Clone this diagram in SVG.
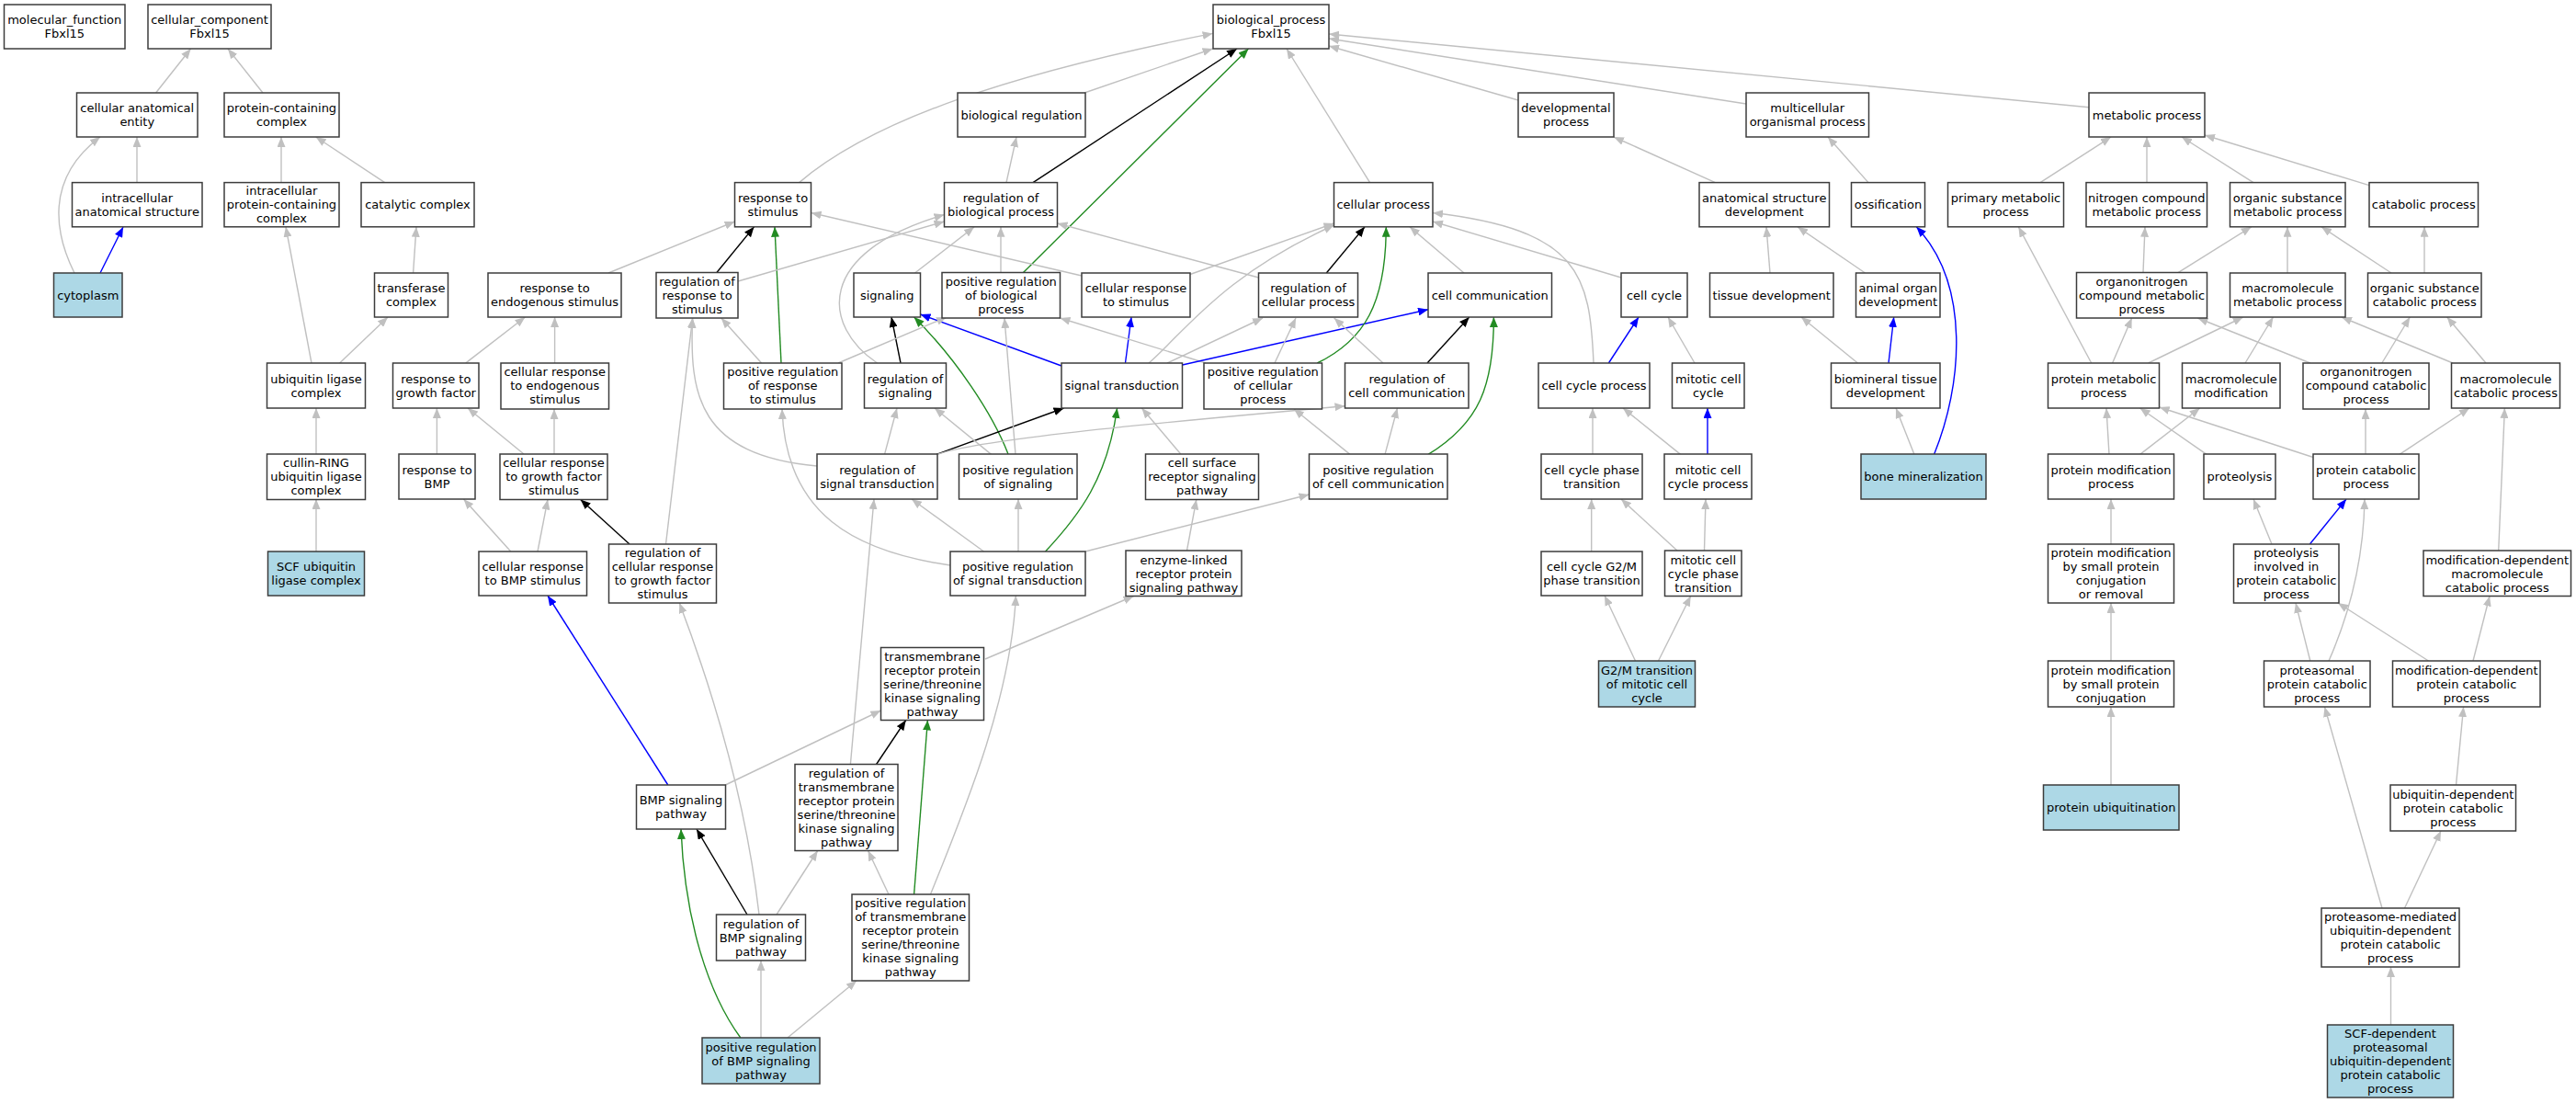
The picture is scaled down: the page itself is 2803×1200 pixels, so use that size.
<svg xmlns="http://www.w3.org/2000/svg" width="2803" height="1200" viewBox="0 0 2803 1200">
<style>
.n{fill:#fff;stroke:#3c3c3c;stroke-width:1.5}
.hl{fill:#add8e6}
.t{font-family:"DejaVu Sans","Liberation Sans",sans-serif;font-size:13px;text-anchor:middle;fill:#000}
#edges path{fill:none;stroke-width:1.4}
.g{stroke:#c0c0c0;marker-end:url(#ag)}
.k{stroke:#000;marker-end:url(#ak)}
.b{stroke:#0000ff;marker-end:url(#ab)}
.v{stroke:#228b22;marker-end:url(#av)}
</style>
<defs>
<marker id="ag" markerUnits="userSpaceOnUse" markerWidth="11" markerHeight="9" refX="11" refY="4.5" orient="auto"><path d="M0,0 L11,4.5 L0,9 z" fill="#c0c0c0"/></marker>
<marker id="ak" markerUnits="userSpaceOnUse" markerWidth="11" markerHeight="9" refX="11" refY="4.5" orient="auto"><path d="M0,0 L11,4.5 L0,9 z" fill="#000"/></marker>
<marker id="ab" markerUnits="userSpaceOnUse" markerWidth="11" markerHeight="9" refX="11" refY="4.5" orient="auto"><path d="M0,0 L11,4.5 L0,9 z" fill="#0000ff"/></marker>
<marker id="av" markerUnits="userSpaceOnUse" markerWidth="11" markerHeight="9" refX="11" refY="4.5" orient="auto"><path d="M0,0 L11,4.5 L0,9 z" fill="#228b22"/></marker>
</defs>
<rect x="0" y="0" width="2803" height="1200" fill="#fff"/>
<g id="edges">
<path class="g" d="M169.6,101 L207.6,53"/>
<path class="g" d="M286,101 L248,53"/>
<path class="g" d="M149,198.6 L149,149"/>
<path class="g" d="M81,297 C60,255 48,195 109,149"/>
<path class="b" d="M109,297 L134,247"/>
<path class="g" d="M306,198.6 L306,149"/>
<path class="g" d="M418.7,198.6 L343.7,149"/>
<path class="g" d="M449.6,297 L453,246.8"/>
<path class="g" d="M339,395 L311,246.8"/>
<path class="g" d="M369.6,395 L422,345"/>
<path class="g" d="M344,494 L344,444"/>
<path class="g" d="M344,600 L344,543"/>
<path class="g" d="M662,297 L799.6,241"/>
<path class="g" d="M506.7,395 L571.4,345"/>
<path class="g" d="M603.6,395 L603.6,345"/>
<path class="g" d="M475.4,494 L475.4,444"/>
<path class="g" d="M570,494 L509,444"/>
<path class="g" d="M603,494 L603,445"/>
<path class="k" d="M685,592 L631.7,543.4"/>
<path class="g" d="M555.8,600 L504.5,543"/>
<path class="g" d="M585,600 L596,543.4"/>
<path class="b" d="M726.8,854 L596,648"/>
<path class="g" d="M869.6,198.6 C950,130 1100,80 1319.6,36.4"/>
<path class="g" d="M1180,101 L1319.6,53"/>
<path class="k" d="M1124,198.6 L1346,53"/>
<path class="v" d="M1113,297 L1358.5,53"/>
<path class="g" d="M1095,198.6 L1106,149"/>
<path class="k" d="M779.5,297 L820.5,246.8"/>
<path class="v" d="M850,395 L843,246.8"/>
<path class="g" d="M803,306 L1027.5,241"/>
<path class="g" d="M1177,300 L882.6,231.5"/>
<path class="g" d="M995.5,297 L1060,247"/>
<path class="g" d="M1089,297 L1089,246.8"/>
<path class="g" d="M1369.6,302 L1150.5,243"/>
<path class="g" d="M954.5,395 C895,355 885,275 1027.5,233.5"/>
<path class="k" d="M980,395 L970,345"/>
<path class="v" d="M1097,494 C1080,450 1040,390 994.6,345"/>
<path class="b" d="M1155,398 L1001.5,342"/>
<path class="g" d="M912,395 L1030,345"/>
<path class="b" d="M1224.5,395 L1231,345"/>
<path class="g" d="M1312,395 L1153.5,346"/>
<path class="g" d="M1270,395 L1374,346"/>
<path class="g" d="M1250,395 C1290,360 1330,300 1451.5,245"/>
<path class="g" d="M1295,298.5 L1451.5,243"/>
<path class="b" d="M1286.6,397 L1554,336.7"/>
<path class="k" d="M1019,494.4 L1157.6,444"/>
<path class="v" d="M1137.5,600 C1175,560 1205,520 1215.6,444"/>
<path class="g" d="M1284.8,494 L1242.4,444"/>
<path class="g" d="M962.5,494.4 L976,444"/>
<path class="g" d="M1078.6,494.4 L1017,444"/>
<path class="g" d="M1105,494.4 L1093,346"/>
<path class="g" d="M889,507 C760,495 750,430 753.6,346"/>
<path class="g" d="M828.6,395 L784.8,346"/>
<path class="g" d="M1020,494.4 C1060,480 1200,465 1463.5,441.7"/>
<path class="v" d="M1433.3,395 C1485,370 1508,330 1508.3,246.8"/>
<path class="k" d="M1443.3,297 L1485,246.8"/>
<path class="g" d="M1593,297 L1534,246.8"/>
<path class="g" d="M1764,302 L1559,241"/>
<path class="g" d="M1734,395 C1730,300 1720,250 1559,231.5"/>
<path class="g" d="M1490.6,198.6 L1400,53"/>
<path class="g" d="M1652,109 L1446,50"/>
<path class="g" d="M1900,113 L1446,42"/>
<path class="g" d="M2273,116.7 L1446,37"/>
<path class="g" d="M1866.5,198.6 L1756,149"/>
<path class="g" d="M2033,198.6 L1989,149"/>
<path class="b" d="M2104.5,494.4 C2135,420 2145,310 2085.3,246.8"/>
<path class="g" d="M1926,297 L1922,246.8"/>
<path class="g" d="M2029.5,297 L1956,246.8"/>
<path class="g" d="M2021.4,395 L1960,345"/>
<path class="b" d="M2055,395 L2060.7,345"/>
<path class="g" d="M2083,494.4 L2063,444"/>
<path class="k" d="M1553,395 L1598.7,345"/>
<path class="v" d="M1554,494.4 C1610,460 1625.4,420 1625.4,345"/>
<path class="g" d="M1507,494.4 L1520.5,444"/>
<path class="g" d="M1469,494.4 L1408,445"/>
<path class="g" d="M1505,395 L1451.7,346"/>
<path class="g" d="M1387,395 L1410,346"/>
<path class="g" d="M1070.5,600 L992,543"/>
<path class="g" d="M1108,600 L1108,543"/>
<path class="g" d="M1034,615 C930,600 855,560 851,445"/>
<path class="g" d="M1181,600 L1424.5,538"/>
<path class="g" d="M1291.5,599 L1301.8,543.4"/>
<path class="g" d="M724.5,592 L753.6,346"/>
<path class="g" d="M826,995 C815,900 790,790 739.3,656"/>
<path class="k" d="M813,995 L758,902"/>
<path class="g" d="M845,995 L889.7,925.5"/>
<path class="v" d="M805.8,1129 C770,1080 745,1000 741,902"/>
<path class="g" d="M828,1129 L828,1045"/>
<path class="g" d="M857,1129 L932,1067"/>
<path class="g" d="M789.3,854 L958.5,773"/>
<path class="k" d="M953.6,831.5 L985.7,783.5"/>
<path class="v" d="M994.6,973 L1009.4,783.5"/>
<path class="g" d="M967,973 L944.6,925.5"/>
<path class="g" d="M1012.5,973 C1050,880 1100,760 1105.4,648"/>
<path class="g" d="M925.4,831.5 L951,543"/>
<path class="g" d="M1072,717 L1233.5,648.5"/>
<path class="g" d="M2220,198.6 L2297,149"/>
<path class="g" d="M2336,198.6 L2336,149"/>
<path class="g" d="M2452,198.6 L2374,149"/>
<path class="g" d="M2578,201.7 L2399,147"/>
<path class="g" d="M2332,296.6 L2334,246.8"/>
<path class="g" d="M2370,296.6 L2449.7,246.8"/>
<path class="g" d="M2489,297 L2489,246.8"/>
<path class="g" d="M2602,297 L2526,246.8"/>
<path class="g" d="M2638,297 L2638,246.8"/>
<path class="g" d="M2275.7,395 L2196.4,246.8"/>
<path class="g" d="M2298.6,395 L2319.7,346"/>
<path class="g" d="M2337.6,395 L2440.7,345"/>
<path class="g" d="M2443,395 L2473.5,345"/>
<path class="g" d="M2513.8,395 L2391.4,346"/>
<path class="g" d="M2591.8,395 L2622.3,345"/>
<path class="g" d="M2669,395 L2548,345"/>
<path class="g" d="M2705,395 L2662.7,345"/>
<path class="g" d="M2295,494.4 L2292,444"/>
<path class="g" d="M2328.6,494.4 L2393.7,444"/>
<path class="g" d="M2401,494.4 L2328.6,444"/>
<path class="g" d="M2517,497.5 L2349.7,443"/>
<path class="g" d="M2574,494.4 L2574,445"/>
<path class="g" d="M2611,494.4 L2687,444"/>
<path class="g" d="M2297,592 L2297,543"/>
<path class="g" d="M2472,592 L2452,543"/>
<path class="b" d="M2513.4,592 L2553,543"/>
<path class="g" d="M2534,719 C2560,660 2572,600 2573,543"/>
<path class="g" d="M2718.7,599 L2725.4,444"/>
<path class="g" d="M2297,719 L2297,656"/>
<path class="g" d="M2297,854 L2297,769"/>
<path class="g" d="M2513.8,719 L2498,656"/>
<path class="g" d="M2642.5,719 L2544,656"/>
<path class="g" d="M2691,719 L2709,648.5"/>
<path class="g" d="M2672.5,854 L2680.6,769"/>
<path class="g" d="M2592,988 L2529.5,769"/>
<path class="g" d="M2616.5,988 L2656,904"/>
<path class="g" d="M2601.5,1115 L2601.5,1052"/>
<path class="g" d="M1731.7,600 L1731.7,543"/>
<path class="g" d="M1825,599 L1764,543"/>
<path class="g" d="M1854.5,599 L1856,543"/>
<path class="g" d="M1779.5,719 L1746,648"/>
<path class="g" d="M1804.5,719 L1839.7,648.5"/>
<path class="g" d="M1733,494.4 L1733,444"/>
<path class="g" d="M1828.6,494.4 L1766,444"/>
<path class="b" d="M1858,494.4 L1858,444"/>
<path class="b" d="M1750.4,395 L1783,345"/>
<path class="g" d="M1844,395 L1815,345"/>
</g>
<g id="n_mf"><rect class="n" x="4.5" y="5" width="131.5" height="48"/><text class="t"><tspan x="70.25" y="26">molecular_function</tspan><tspan x="70.25" y="41">Fbxl15</tspan></text></g>
<g id="n_cc"><rect class="n" x="161" y="5" width="134" height="48"/><text class="t"><tspan x="228" y="26">cellular_component</tspan><tspan x="228" y="41">Fbxl15</tspan></text></g>
<g id="n_bp"><rect class="n" x="1320" y="5" width="126" height="48"/><text class="t"><tspan x="1383" y="26">biological_process</tspan><tspan x="1383" y="41">Fbxl15</tspan></text></g>
<g id="n_cae"><rect class="n" x="83.5" y="101" width="131.5" height="48"/><text class="t"><tspan x="149.25" y="122">cellular anatomical</tspan><tspan x="149.25" y="137">entity</tspan></text></g>
<g id="n_pcc"><rect class="n" x="244" y="101" width="125" height="48"/><text class="t"><tspan x="306.5" y="122">protein-containing</tspan><tspan x="306.5" y="137">complex</tspan></text></g>
<g id="n_breg"><rect class="n" x="1042" y="101" width="139" height="48"/><text class="t"><tspan x="1111.5" y="129.5">biological regulation</tspan></text></g>
<g id="n_dev"><rect class="n" x="1652" y="101" width="104" height="48"/><text class="t"><tspan x="1704" y="122">developmental</tspan><tspan x="1704" y="137">process</tspan></text></g>
<g id="n_mop"><rect class="n" x="1900" y="101" width="133.5" height="48"/><text class="t"><tspan x="1966.75" y="122">multicellular</tspan><tspan x="1966.75" y="137">organismal process</tspan></text></g>
<g id="n_met"><rect class="n" x="2273" y="101" width="126" height="48"/><text class="t"><tspan x="2336" y="129.5">metabolic process</tspan></text></g>
<g id="n_ias"><rect class="n" x="78.5" y="198.6" width="141.5" height="48.2"/><text class="t"><tspan x="149.25" y="219.7">intracellular</tspan><tspan x="149.25" y="234.7">anatomical structure</tspan></text></g>
<g id="n_ipcc"><rect class="n" x="244" y="198.6" width="125" height="48.2"/><text class="t"><tspan x="306.5" y="212.2">intracellular</tspan><tspan x="306.5" y="227.2">protein-containing</tspan><tspan x="306.5" y="242.2">complex</tspan></text></g>
<g id="n_catc"><rect class="n" x="393" y="198.6" width="123" height="48.2"/><text class="t"><tspan x="454.5" y="227.2">catalytic complex</tspan></text></g>
<g id="n_rts"><rect class="n" x="799.5" y="198.6" width="83" height="48.2"/><text class="t"><tspan x="841" y="219.7">response to</tspan><tspan x="841" y="234.7">stimulus</tspan></text></g>
<g id="n_rbp"><rect class="n" x="1027.5" y="198.6" width="123" height="48.2"/><text class="t"><tspan x="1089" y="219.7">regulation of</tspan><tspan x="1089" y="234.7">biological process</tspan></text></g>
<g id="n_cp"><rect class="n" x="1451.5" y="198.6" width="107.5" height="48.2"/><text class="t"><tspan x="1505.25" y="227.2">cellular process</tspan></text></g>
<g id="n_asd"><rect class="n" x="1849" y="198.6" width="141.5" height="48.2"/><text class="t"><tspan x="1919.75" y="219.7">anatomical structure</tspan><tspan x="1919.75" y="234.7">development</tspan></text></g>
<g id="n_oss"><rect class="n" x="2014.5" y="198.6" width="80" height="48.2"/><text class="t"><tspan x="2054.5" y="227.2">ossification</tspan></text></g>
<g id="n_pmp"><rect class="n" x="2119.5" y="198.6" width="126" height="48.2"/><text class="t"><tspan x="2182.5" y="219.7">primary metabolic</tspan><tspan x="2182.5" y="234.7">process</tspan></text></g>
<g id="n_ncmp"><rect class="n" x="2270" y="198.6" width="131.5" height="48.2"/><text class="t"><tspan x="2335.75" y="219.7">nitrogen compound</tspan><tspan x="2335.75" y="234.7">metabolic process</tspan></text></g>
<g id="n_osmp"><rect class="n" x="2426.5" y="198.6" width="125.5" height="48.2"/><text class="t"><tspan x="2489.25" y="219.7">organic substance</tspan><tspan x="2489.25" y="234.7">metabolic process</tspan></text></g>
<g id="n_catp"><rect class="n" x="2578" y="198.6" width="118.5" height="48.2"/><text class="t"><tspan x="2637.25" y="227.2">catabolic process</tspan></text></g>
<g id="n_cyto"><rect class="n hl" x="58.5" y="297" width="74.5" height="48"/><text class="t"><tspan x="95.75" y="325.5">cytoplasm</tspan></text></g>
<g id="n_trc"><rect class="n" x="407.5" y="297" width="80" height="48"/><text class="t"><tspan x="447.5" y="318">transferase</tspan><tspan x="447.5" y="333">complex</tspan></text></g>
<g id="n_res"><rect class="n" x="531" y="297" width="145" height="48"/><text class="t"><tspan x="603.5" y="318">response to</tspan><tspan x="603.5" y="333">endogenous stimulus</tspan></text></g>
<g id="n_rrs"><rect class="n" x="714" y="296.5" width="89" height="49.5"/><text class="t"><tspan x="758.5" y="310.5">regulation of</tspan><tspan x="758.5" y="325.5">response to</tspan><tspan x="758.5" y="340.5">stimulus</tspan></text></g>
<g id="n_sig"><rect class="n" x="929" y="297" width="72.5" height="48"/><text class="t"><tspan x="965.25" y="325.5">signaling</tspan></text></g>
<g id="n_prbp"><rect class="n" x="1025" y="296.5" width="128.5" height="49.5"/><text class="t"><tspan x="1089.25" y="310.5">positive regulation</tspan><tspan x="1089.25" y="325.5">of biological</tspan><tspan x="1089.25" y="340.5">process</tspan></text></g>
<g id="n_crs"><rect class="n" x="1177" y="297" width="118" height="48"/><text class="t"><tspan x="1236" y="318">cellular response</tspan><tspan x="1236" y="333">to stimulus</tspan></text></g>
<g id="n_rcp"><rect class="n" x="1369.5" y="297" width="108" height="48"/><text class="t"><tspan x="1423.5" y="318">regulation of</tspan><tspan x="1423.5" y="333">cellular process</tspan></text></g>
<g id="n_ccom"><rect class="n" x="1554" y="297" width="134.5" height="48"/><text class="t"><tspan x="1621.25" y="325.5">cell communication</tspan></text></g>
<g id="n_ccy"><rect class="n" x="1764" y="297" width="72" height="48"/><text class="t"><tspan x="1800" y="325.5">cell cycle</tspan></text></g>
<g id="n_td"><rect class="n" x="1860.5" y="297" width="134.5" height="48"/><text class="t"><tspan x="1927.75" y="325.5">tissue development</tspan></text></g>
<g id="n_aod"><rect class="n" x="2019.5" y="297" width="91.5" height="48"/><text class="t"><tspan x="2065.25" y="318">animal organ</tspan><tspan x="2065.25" y="333">development</tspan></text></g>
<g id="n_onmp"><rect class="n" x="2259.5" y="296.5" width="142" height="49.5"/><text class="t"><tspan x="2330.5" y="310.5">organonitrogen</tspan><tspan x="2330.5" y="325.5">compound metabolic</tspan><tspan x="2330.5" y="340.5">process</tspan></text></g>
<g id="n_mmp"><rect class="n" x="2426.5" y="297" width="125.5" height="48"/><text class="t"><tspan x="2489.25" y="318">macromolecule</tspan><tspan x="2489.25" y="333">metabolic process</tspan></text></g>
<g id="n_oscp"><rect class="n" x="2576.5" y="297" width="123.5" height="48"/><text class="t"><tspan x="2638.25" y="318">organic substance</tspan><tspan x="2638.25" y="333">catabolic process</tspan></text></g>
<g id="n_ulc"><rect class="n" x="290.5" y="395" width="107" height="49"/><text class="t"><tspan x="344" y="416.5">ubiquitin ligase</tspan><tspan x="344" y="431.5">complex</tspan></text></g>
<g id="n_rgf"><rect class="n" x="427.5" y="395" width="93.5" height="49"/><text class="t"><tspan x="474.25" y="416.5">response to</tspan><tspan x="474.25" y="431.5">growth factor</tspan></text></g>
<g id="n_cres"><rect class="n" x="545" y="395" width="117.5" height="50"/><text class="t"><tspan x="603.75" y="409">cellular response</tspan><tspan x="603.75" y="424">to endogenous</tspan><tspan x="603.75" y="439">stimulus</tspan></text></g>
<g id="n_prrs"><rect class="n" x="787.5" y="395" width="128.5" height="50"/><text class="t"><tspan x="851.75" y="409">positive regulation</tspan><tspan x="851.75" y="424">of response</tspan><tspan x="851.75" y="439">to stimulus</tspan></text></g>
<g id="n_rsig"><rect class="n" x="940.5" y="395" width="89" height="49"/><text class="t"><tspan x="985" y="416.5">regulation of</tspan><tspan x="985" y="431.5">signaling</tspan></text></g>
<g id="n_st"><rect class="n" x="1155" y="395" width="131.5" height="49"/><text class="t"><tspan x="1220.75" y="424">signal transduction</tspan></text></g>
<g id="n_prcp"><rect class="n" x="1310" y="395" width="128.5" height="50"/><text class="t"><tspan x="1374.25" y="409">positive regulation</tspan><tspan x="1374.25" y="424">of cellular</tspan><tspan x="1374.25" y="439">process</tspan></text></g>
<g id="n_rcc"><rect class="n" x="1463.5" y="395" width="134.5" height="49"/><text class="t"><tspan x="1530.75" y="416.5">regulation of</tspan><tspan x="1530.75" y="431.5">cell communication</tspan></text></g>
<g id="n_ccp"><rect class="n" x="1674" y="395" width="121" height="49"/><text class="t"><tspan x="1734.5" y="424">cell cycle process</tspan></text></g>
<g id="n_mcc"><rect class="n" x="1819.5" y="395" width="78.5" height="49"/><text class="t"><tspan x="1858.75" y="416.5">mitotic cell</tspan><tspan x="1858.75" y="431.5">cycle</tspan></text></g>
<g id="n_btd"><rect class="n" x="1992.5" y="395" width="118.5" height="49"/><text class="t"><tspan x="2051.75" y="416.5">biomineral tissue</tspan><tspan x="2051.75" y="431.5">development</tspan></text></g>
<g id="n_prmp"><rect class="n" x="2228.5" y="395" width="121" height="49"/><text class="t"><tspan x="2289" y="416.5">protein metabolic</tspan><tspan x="2289" y="431.5">process</tspan></text></g>
<g id="n_mmod"><rect class="n" x="2374.5" y="395" width="106.5" height="49"/><text class="t"><tspan x="2427.75" y="416.5">macromolecule</tspan><tspan x="2427.75" y="431.5">modification</tspan></text></g>
<g id="n_onccp"><rect class="n" x="2506" y="395" width="137" height="50"/><text class="t"><tspan x="2574.5" y="409">organonitrogen</tspan><tspan x="2574.5" y="424">compound catabolic</tspan><tspan x="2574.5" y="439">process</tspan></text></g>
<g id="n_mcp"><rect class="n" x="2667.5" y="395" width="118" height="49"/><text class="t"><tspan x="2726.5" y="416.5">macromolecule</tspan><tspan x="2726.5" y="431.5">catabolic process</tspan></text></g>
<g id="n_crl"><rect class="n" x="290.5" y="494" width="107" height="49.5"/><text class="t"><tspan x="344" y="508">cullin-RING</tspan><tspan x="344" y="523">ubiquitin ligase</tspan><tspan x="344" y="538">complex</tspan></text></g>
<g id="n_rbmp"><rect class="n" x="434" y="494" width="83" height="49"/><text class="t"><tspan x="475.5" y="515.5">response to</tspan><tspan x="475.5" y="530.5">BMP</tspan></text></g>
<g id="n_crgf"><rect class="n" x="544" y="494" width="117" height="49.5"/><text class="t"><tspan x="602.5" y="508">cellular response</tspan><tspan x="602.5" y="523">to growth factor</tspan><tspan x="602.5" y="538">stimulus</tspan></text></g>
<g id="n_rst"><rect class="n" x="889" y="494" width="131" height="49"/><text class="t"><tspan x="954.5" y="515.5">regulation of</tspan><tspan x="954.5" y="530.5">signal transduction</tspan></text></g>
<g id="n_prsig"><rect class="n" x="1043.5" y="494" width="128.5" height="49"/><text class="t"><tspan x="1107.75" y="515.5">positive regulation</tspan><tspan x="1107.75" y="530.5">of signaling</tspan></text></g>
<g id="n_csr"><rect class="n" x="1246.5" y="494" width="123" height="49.5"/><text class="t"><tspan x="1308" y="508">cell surface</tspan><tspan x="1308" y="523">receptor signaling</tspan><tspan x="1308" y="538">pathway</tspan></text></g>
<g id="n_prcc"><rect class="n" x="1424.5" y="494" width="150.5" height="49"/><text class="t"><tspan x="1499.75" y="515.5">positive regulation</tspan><tspan x="1499.75" y="530.5">of cell communication</tspan></text></g>
<g id="n_ccpt"><rect class="n" x="1677" y="494" width="110" height="49"/><text class="t"><tspan x="1732" y="515.5">cell cycle phase</tspan><tspan x="1732" y="530.5">transition</tspan></text></g>
<g id="n_mccp"><rect class="n" x="1811" y="494" width="95" height="49"/><text class="t"><tspan x="1858.5" y="515.5">mitotic cell</tspan><tspan x="1858.5" y="530.5">cycle process</tspan></text></g>
<g id="n_bm"><rect class="n hl" x="2025" y="494" width="136" height="49"/><text class="t"><tspan x="2093" y="523">bone mineralization</tspan></text></g>
<g id="n_pmod"><rect class="n" x="2228.5" y="494" width="137" height="49"/><text class="t"><tspan x="2297" y="515.5">protein modification</tspan><tspan x="2297" y="530.5">process</tspan></text></g>
<g id="n_prot"><rect class="n" x="2398" y="494" width="78" height="49"/><text class="t"><tspan x="2437" y="523">proteolysis</tspan></text></g>
<g id="n_pcp"><rect class="n" x="2517" y="494" width="115" height="49"/><text class="t"><tspan x="2574.5" y="515.5">protein catabolic</tspan><tspan x="2574.5" y="530.5">process</tspan></text></g>
<g id="n_scf"><rect class="n hl" x="291.5" y="600" width="105" height="48"/><text class="t"><tspan x="344" y="621">SCF ubiquitin</tspan><tspan x="344" y="636">ligase complex</tspan></text></g>
<g id="n_crbmp"><rect class="n" x="521" y="600" width="117.5" height="48"/><text class="t"><tspan x="579.75" y="621">cellular response</tspan><tspan x="579.75" y="636">to BMP stimulus</tspan></text></g>
<g id="n_rcrgf"><rect class="n" x="662.5" y="592" width="117" height="64"/><text class="t"><tspan x="721" y="606">regulation of</tspan><tspan x="721" y="621">cellular response</tspan><tspan x="721" y="636">to growth factor</tspan><tspan x="721" y="651">stimulus</tspan></text></g>
<g id="n_prst"><rect class="n" x="1034" y="600" width="147" height="48"/><text class="t"><tspan x="1107.5" y="621">positive regulation</tspan><tspan x="1107.5" y="636">of signal transduction</tspan></text></g>
<g id="n_elr"><rect class="n" x="1225" y="599" width="126" height="49.5"/><text class="t"><tspan x="1288" y="613.5">enzyme-linked</tspan><tspan x="1288" y="628.5">receptor protein</tspan><tspan x="1288" y="643.5">signaling pathway</tspan></text></g>
<g id="n_g2m"><rect class="n" x="1677" y="600" width="110" height="48"/><text class="t"><tspan x="1732" y="621">cell cycle G2/M</tspan><tspan x="1732" y="636">phase transition</tspan></text></g>
<g id="n_mccpt"><rect class="n" x="1811.5" y="599" width="83.5" height="49.5"/><text class="t"><tspan x="1853.25" y="613.5">mitotic cell</tspan><tspan x="1853.25" y="628.5">cycle phase</tspan><tspan x="1853.25" y="643.5">transition</tspan></text></g>
<g id="n_pmsr"><rect class="n" x="2228.5" y="592" width="137" height="64"/><text class="t"><tspan x="2297" y="606">protein modification</tspan><tspan x="2297" y="621">by small protein</tspan><tspan x="2297" y="636">conjugation</tspan><tspan x="2297" y="651">or removal</tspan></text></g>
<g id="n_picp"><rect class="n" x="2430.5" y="592" width="114.5" height="64"/><text class="t"><tspan x="2487.75" y="606">proteolysis</tspan><tspan x="2487.75" y="621">involved in</tspan><tspan x="2487.75" y="636">protein catabolic</tspan><tspan x="2487.75" y="651">process</tspan></text></g>
<g id="n_mdmcp"><rect class="n" x="2637" y="599" width="160.5" height="49.5"/><text class="t"><tspan x="2717.25" y="613.5">modification-dependent</tspan><tspan x="2717.25" y="628.5">macromolecule</tspan><tspan x="2717.25" y="643.5">catabolic process</tspan></text></g>
<g id="n_tmr"><rect class="n" x="958.5" y="704.5" width="112" height="79"/><text class="t"><tspan x="1014.5" y="718.5">transmembrane</tspan><tspan x="1014.5" y="733.5">receptor protein</tspan><tspan x="1014.5" y="748.5">serine/threonine</tspan><tspan x="1014.5" y="763.5">kinase signaling</tspan><tspan x="1014.5" y="778.5">pathway</tspan></text></g>
<g id="n_g2mt"><rect class="n hl" x="1739.5" y="719" width="105" height="50"/><text class="t"><tspan x="1792" y="733.5">G2/M transition</tspan><tspan x="1792" y="748.5">of mitotic cell</tspan><tspan x="1792" y="763.5">cycle</tspan></text></g>
<g id="n_pmsc"><rect class="n" x="2228.5" y="719" width="137" height="50"/><text class="t"><tspan x="2297" y="733.5">protein modification</tspan><tspan x="2297" y="748.5">by small protein</tspan><tspan x="2297" y="763.5">conjugation</tspan></text></g>
<g id="n_ppcp"><rect class="n" x="2463.5" y="719" width="115.5" height="50"/><text class="t"><tspan x="2521.25" y="733.5">proteasomal</tspan><tspan x="2521.25" y="748.5">protein catabolic</tspan><tspan x="2521.25" y="763.5">process</tspan></text></g>
<g id="n_mdpcp"><rect class="n" x="2603.5" y="719" width="160.5" height="50"/><text class="t"><tspan x="2683.75" y="733.5">modification-dependent</tspan><tspan x="2683.75" y="748.5">protein catabolic</tspan><tspan x="2683.75" y="763.5">process</tspan></text></g>
<g id="n_bmp"><rect class="n" x="692.5" y="854" width="97" height="48"/><text class="t"><tspan x="741" y="875">BMP signaling</tspan><tspan x="741" y="890">pathway</tspan></text></g>
<g id="n_rtmr"><rect class="n" x="865" y="831.5" width="112" height="94"/><text class="t"><tspan x="921" y="845.5">regulation of</tspan><tspan x="921" y="860.5">transmembrane</tspan><tspan x="921" y="875.5">receptor protein</tspan><tspan x="921" y="890.5">serine/threonine</tspan><tspan x="921" y="905.5">kinase signaling</tspan><tspan x="921" y="920.5">pathway</tspan></text></g>
<g id="n_pu"><rect class="n hl" x="2223.5" y="854" width="147.5" height="49"/><text class="t"><tspan x="2297.25" y="883">protein ubiquitination</tspan></text></g>
<g id="n_udpcp"><rect class="n" x="2601" y="854" width="136.5" height="50"/><text class="t"><tspan x="2669.25" y="868.5">ubiquitin-dependent</tspan><tspan x="2669.25" y="883.5">protein catabolic</tspan><tspan x="2669.25" y="898.5">process</tspan></text></g>
<g id="n_rbmpp"><rect class="n" x="779.5" y="995" width="97" height="50"/><text class="t"><tspan x="828" y="1009.5">regulation of</tspan><tspan x="828" y="1024.5">BMP signaling</tspan><tspan x="828" y="1039.5">pathway</tspan></text></g>
<g id="n_prtmr"><rect class="n" x="927" y="973" width="127.5" height="94"/><text class="t"><tspan x="990.75" y="987">positive regulation</tspan><tspan x="990.75" y="1002">of transmembrane</tspan><tspan x="990.75" y="1017">receptor protein</tspan><tspan x="990.75" y="1032">serine/threonine</tspan><tspan x="990.75" y="1047">kinase signaling</tspan><tspan x="990.75" y="1062">pathway</tspan></text></g>
<g id="n_pmu"><rect class="n" x="2526" y="988" width="150" height="64"/><text class="t"><tspan x="2601" y="1002">proteasome-mediated</tspan><tspan x="2601" y="1017">ubiquitin-dependent</tspan><tspan x="2601" y="1032">protein catabolic</tspan><tspan x="2601" y="1047">process</tspan></text></g>
<g id="n_prbmp"><rect class="n hl" x="764" y="1129" width="128" height="50"/><text class="t"><tspan x="828" y="1143.5">positive regulation</tspan><tspan x="828" y="1158.5">of BMP signaling</tspan><tspan x="828" y="1173.5">pathway</tspan></text></g>
<g id="n_scfd"><rect class="n hl" x="2532.5" y="1115" width="137" height="79"/><text class="t"><tspan x="2601" y="1129">SCF-dependent</tspan><tspan x="2601" y="1144">proteasomal</tspan><tspan x="2601" y="1159">ubiquitin-dependent</tspan><tspan x="2601" y="1174">protein catabolic</tspan><tspan x="2601" y="1189">process</tspan></text></g>
</svg>
